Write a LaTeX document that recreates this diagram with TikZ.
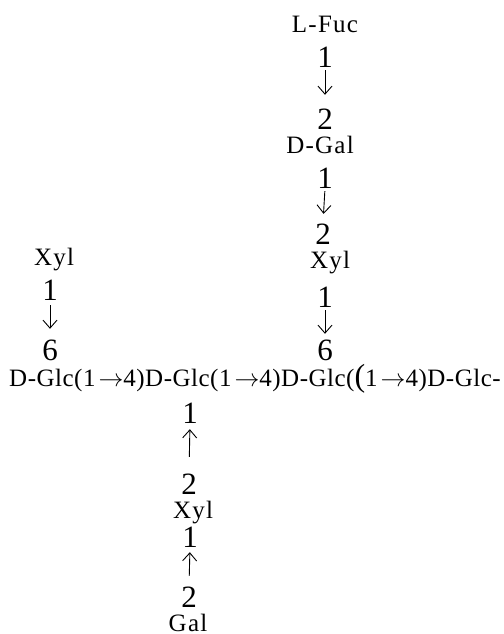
\documentclass[tikz,border=0pt]{standalone}
\usepackage{fontspec}
\setmainfont{Liberation Serif}
\usetikzlibrary{arrows.meta}
\newcommand{\linkarrow}{\hspace{3pt}$\rightarrow$}
\begin{document}
\begin{tikzpicture}[x=1pt,y=-1pt,
  sugar/.style={font=\fontsize{25pt}{25pt}\selectfont\addfontfeature{LetterSpace=5}, inner sep=0pt, anchor=base, text height=17pt, text depth=5pt},
  num/.style={font=\fontsize{31pt}{31pt}\selectfont, inner sep=0pt, anchor=base, text height=21pt, text depth=0pt},
  chainrow/.style={font=\fontsize{25pt}{25pt}\selectfont\addfontfeature{LetterSpace=2}, inner sep=0pt, anchor=base west},
  link/.style={-{Straight Barb[length=8pt,width=14pt]}, line width=0.9pt}
]
\useasboundingbox (0,0) rectangle (503,634);
% right column
\node[sugar] (fuc)  at (325,33)  {L-Fuc};
\node[num]   (r1a)  at (325,67)  {1};
\node[num]   (r2a)  at (325,129) {2};
\node[sugar] (dgal) at (320,153) {D-Gal};
\node[num]   (r1b)  at (325,188) {1};
\node[num]   (r2b)  at (323,244) {2};
\node[sugar] (xylr) at (330,268) {Xyl};
\node[num]   (r1c)  at (325,307) {1};
\node[num]   (r6)   at (325,360) {6};
% left column
\node[sugar] (xyll) at (54,265)  {Xyl};
\node[num]   (l1)   at (50,300)  {1};
\node[num]   (l6)   at (50,360)  {6};
% main chain
\node[chainrow] (main) at (9,386) {D-Glc(1\linkarrow4)D-Glc(1\linkarrow4)D-Glc({\fontsize{32pt}{32pt}\selectfont(}1\linkarrow4)D-Glc-};
% bottom column
\node[num]   (b1)   at (190,423) {1};
\node[num]   (b2)   at (189,494) {2};
\node[sugar] (xylb) at (193,518) {Xyl};
\node[num]   (b1b)  at (190,547) {1};
\node[num]   (b2b)  at (189,607) {2};
\node[sugar, text depth=0pt] (galb) at (188,631) {Gal};
% linkages
\draw[link, shorten <=3pt, shorten >=13pt] (r1a.south) -- (r2a.north);
\draw[link, shorten <=3pt, shorten >=9pt]  (r1b.south) -- (r2b.north);
\draw[link, shorten <=3pt, shorten >=5pt]  (r1c.south) -- (r6.north);
\draw[link, shorten <=5pt, shorten >=10pt] (l1.south)  -- (l6.north);
\draw[link, shorten <=16pt, shorten >=6pt] (b2.north)  -- (b1.south);
\draw[link, shorten <=10pt, shorten >=5pt] (b2b.north) -- (b1b.south);
\end{tikzpicture}
\end{document}
